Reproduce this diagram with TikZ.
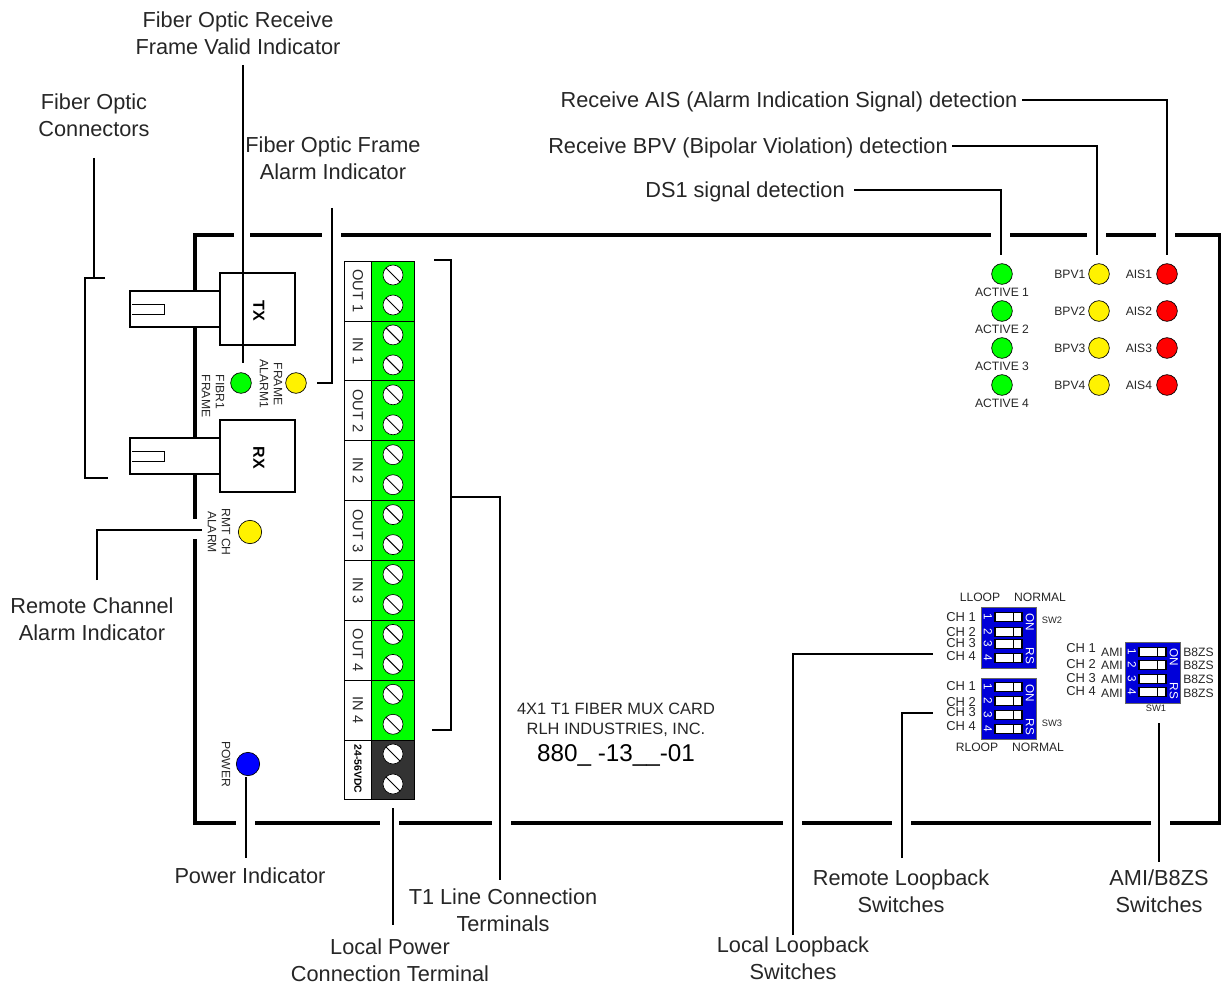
\documentclass[tikz,border=0pt]{standalone}
\usepackage{fontspec}
\setmainfont{Liberation Sans}
\usetikzlibrary{positioning}
\tikzset{
  callout/.style={align=center,inner sep=0pt,text=black!85,font=\fontsize{16.3}{20}\selectfont},
  small/.style={inner sep=0pt,text=black!85,font=\fontsize{9.1}{10.5}\selectfont},
  tiny/.style={inner sep=0pt,text=black!85,font=\fontsize{7}{8}\selectfont},
  sideways/.style={small,rotate=-90,align=center},
  dipwhite/.style={inner sep=0pt,text=white,rotate=-90,font=\fontsize{8.8}{10}\selectfont},
  cardtext/.style={inner sep=0pt,text=black!85,font=\fontsize{12.3}{14}\selectfont},
  leader/.style={line width=1.9pt},
  frameline/.style={line width=2.3pt},
  led/.style={circle,draw,line width=0.5pt,inner sep=0pt,minimum size=15.5pt},
  screw/.style={circle,draw,fill=white,line width=0.5pt,inner sep=0pt,minimum size=15pt,
    path picture={\draw[line width=0.7pt] (path picture bounding box.north west) -- (path picture bounding box.south east);}},
  plug/.style={draw,fill=white,line width=1.9pt},
  switchbox/.style={draw=black,fill=white,line width=0.8pt}
}
\begin{document}
\begin{tikzpicture}[x=0.75pt,y=-0.75pt]
\useasboundingbox (0,0) rectangle (1221,987);
% card outline
\draw[frameline] (234,235) -- (195,235) -- (195,291);
\draw[frameline] (195,327) -- (195,438);
\draw[frameline] (195,474) -- (195,519);
\draw[frameline] (195,539) -- (195,823) -- (236,823);
\foreach \a/\b in {250/322,341/991,1010/1087,1106/1156}{\draw[frameline] (\a,235) -- (\b,235);}
\draw[frameline] (1175,235) -- (1219.5,235) -- (1219.5,823) -- (1170,823);
\foreach \a/\b in {255/380,399/492,511/783,802/892,911/1151}{\draw[frameline] (\a,823) -- (\b,823);}
% fiber connectors
\foreach \name/\lab/\y in {tx/TX/273,rx/RX/420}{
  \draw[plug] (130,\y+18) rectangle (220,\y+54);
  \draw[line width=0.7pt] (132,\y+31) -- (164,\y+31) -- (164,\y+41) -- (132,\y+41);
  \node[plug,minimum width=56.25pt,minimum height=54pt,inner sep=0pt] (\name) at (257.5,\y+36) {};
  \node[rotate=-90,inner sep=0pt,font=\fontsize{12}{14}\selectfont\bfseries] (\name label) at (259,\y+38) {\lab};
}
% terminal block
\foreach \n/\lab in {0/OUT 1,1/IN 1,2/OUT 2,3/IN 2,4/OUT 3,5/IN 3,6/OUT 4,7/IN 4}{
  \draw[fill=white,line width=0.5pt] (344,261+\n*59.9) rectangle (371,261+\n*59.9+59.9);
  \draw[fill=green,line width=0.5pt] (371,261+\n*59.9) rectangle (414,261+\n*59.9+59.9);
  \node[rotate=-90,inner sep=0pt,text=black!85,font=\fontsize{11}{12}\selectfont] (term\n) at (358,291+\n*59.9) {\lab};
  \node[screw] (screw\n a) at (393,275+\n*59.9) {};
  \node[screw] (screw\n b) at (393,305+\n*59.9) {};
}
\draw[fill=white,line width=0.5pt] (344,740) rectangle (371,799);
\draw[fill=black!80,line width=0.5pt] (371,740) rectangle (414,799);
\node[rotate=-90,inner sep=0pt,font=\fontsize{7.8}{9}\selectfont\bfseries] (termdc) at (358,769) {24-56VDC};
\node[screw] (screwdca) at (393,754) {};
\node[screw] (screwdcb) at (393,784) {};
% front leds
\node[led,fill=green] (ledfibr) at (241,383) {};
\node[led,fill=yellow] (ledframe) at (296,383) {};
\node[led,fill=yellow,minimum size=17.5pt] (ledrmt) at (250,532) {};
\node[led,fill=blue,minimum size=17.5pt] (ledpower) at (248,764) {};
\node[sideways,align=left] (fibrtext) at (213,396) {FIBR1\\FRAME};
\node[sideways] (framealarm) at (271,384) {FRAME\\ALARM1};
\node[sideways] (rmttext) at (219,532) {RMT CH\\ALARM};
\node[sideways] (powertext) at (226,764) {POWER};
% status leds
\foreach \n/\y in {1/274,2/311,3/348,4/385}{
  \node[led,fill=green] (act\n) at (1002,\y) {};
  \node[small,below=2.2pt of act\n] (acttext\n) {ACTIVE \n};
  \node[led,fill=yellow] (bpv\n) at (1099,\y) {};
  \node[small,left=2pt of bpv\n] (bpvtext\n) {BPV\n};
  \node[led,fill=red] (ais\n) at (1167,\y) {};
  \node[small,left=3pt of ais\n] (aistext\n) {AIS\n};
}
% dip switches
\foreach \name/\x/\y/\ra/\rb/\rc/\rd in {swtwo/981/607/617/632/644/658,swthree/981/678/687/701/715/729,swone/1125/642/652/665/679/692}{
  \fill[blue!85!black,draw=black!60,line width=0.4pt] (\x,\y) rectangle (\x+55,\y+61);
  \foreach \n/\r in {1/\ra,2/\rb,3/\rc,4/\rd}{
    \draw[switchbox] (\x+14,\r-4.5) rectangle (\x+41,\r+4.5);
    \draw[line width=0.6pt] (\x+32,\r-4.5) -- (\x+32,\r+4.5);
    \node[dipwhite] (\name n\n) at (\x+7,\r) {\n};
  }
  \node[dipwhite] (\name on) at (\x+49,\y+15) {ON};
  \node[dipwhite] (\name rs) at (\x+49,\y+49) {RS};
}
\foreach \n/\y in {1/617,2/632,3/643,4/656}{\node[small,font=\fontsize{9.7}{11}\selectfont,anchor=east] (chtwo\n) at (976,\y) {CH \n};}
\foreach \n/\y in {1/686,2/702,3/712,4/726}{\node[small,font=\fontsize{9.7}{11}\selectfont,anchor=east] (chthree\n) at (976,\y) {CH \n};}
\foreach \n/\y/\z in {1/648/652,2/664/665,3/678/679,4/691/693}{
  \node[small,font=\fontsize{9.7}{11}\selectfont,anchor=east] (chone\n) at (1096,\y) {CH \n};
  \node[small,anchor=east] (ami\n) at (1123,\z) {AMI};
  \node[small,anchor=west] (bez\n) at (1183,\z) {B8ZS};
}
\node[small] (lloop) at (980,597) {LLOOP};
\node[small] (normalb) at (1040,597) {NORMAL};
\node[small] (rloop) at (977,747) {RLOOP};
\node[small] (normalc) at (1038,747) {NORMAL};
\node[tiny] (swtext2) at (1052,620) {SW2};
\node[tiny] (swtext3) at (1052,723) {SW3};
\node[tiny] (swtext1) at (1156,708) {SW1};
% card text
\node[cardtext] (cardname) at (616,709) {4X1 T1 FIBER MUX CARD};
\node[cardtext] (cardmaker) at (616,730) {RLH INDUSTRIES, INC.};
\node[cardtext,text=black,font=\fontsize{18.2}{20}\selectfont] (cardpart) at (616,755) {880\_ -13\_\_-01};
% callouts
\node[callout] (lbvalid) at (238,33) {Fiber Optic Receive\\Frame Valid Indicator};
\node[callout] (lbfiber) at (94,115) {Fiber Optic\\Connectors};
\node[callout] (lbalarm) at (333,158) {Fiber Optic Frame\\Alarm Indicator};
\node[callout] (lbais) at (789,101.5) {Receive AIS (Alarm Indication Signal) detection};
\node[callout] (lbbpv) at (748,147.5) {Receive BPV (Bipolar Violation) detection};
\node[callout] (lbds) at (745,191.5) {DS1 signal detection};
\node[callout] (lbremote) at (92,619) {Remote Channel\\Alarm Indicator};
\node[callout] (lbpower) at (250,876) {Power Indicator};
\node[callout] (lbterm) at (503,910) {T1 Line Connection\\Terminals};
\node[callout] (lblocal) at (390,960.5) {Local Power\\Connection Terminal};
\node[callout] (lbllb) at (793,958) {Local Loopback\\Switches};
\node[callout] (lbrlb) at (901,891) {Remote Loopback\\Switches};
\node[callout] (lbsw) at (1159,891) {AMI/B8ZS\\Switches};
% leaders
\coordinate (fiberbrk) at (94,278);
\draw[leader] (94,158) -- (fiberbrk);
\draw[leader] (105,278) -- (85,278) -- (85,478) -- (108,478);
\coordinate (validtop) at (243,65);
\draw[leader] (validtop) -- (243,363);
\draw[leader] (332,208) -- (332,383) -- (317,383);
\draw[leader] (854,190) -- (1001,190) -- (1001,255);
\draw[leader] (952,146) -- (1097,146) -- (1097,255);
\draw[leader] (1022,100) -- (1167,100) -- (1167,255);
\draw[leader] (97,580) -- (97,530) -- (202,530);
\draw[leader] (246,777) -- (246,858);
\draw[leader] (393,808) -- (393,925);
\draw[leader] (434,260) -- (451,260) -- (451,730) -- (432,730);
\draw[leader] (451,497) -- (500,497) -- (500,880);
\draw[leader] (793,935) -- (793,654) -- (933,654);
\draw[leader] (902,858) -- (902,713) -- (933,713);
\draw[leader] (1159,723) -- (1159,862);
\end{tikzpicture}
\end{document}
